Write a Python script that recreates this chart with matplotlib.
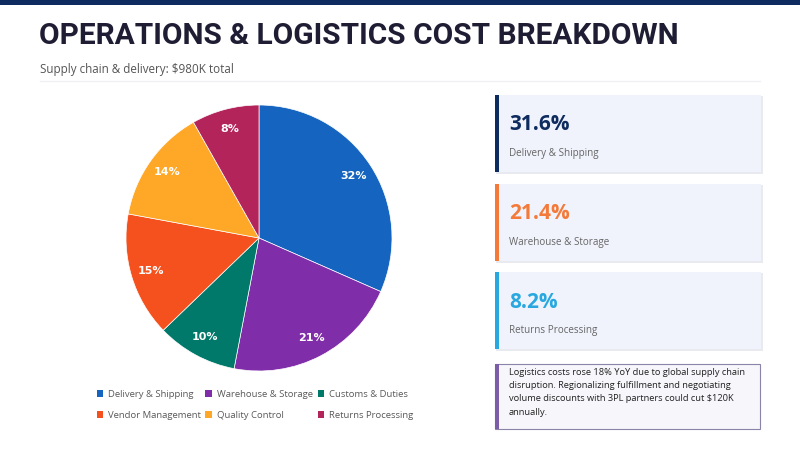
import matplotlib
matplotlib.use('Agg')
import matplotlib.pyplot as plt
from matplotlib.patches import Rectangle, Patch

# data
categories = ['Delivery & Shipping', 'Warehouse & Storage', 'Customs & Duties',
              'Vendor Management', 'Quality Control', 'Returns Processing']
shares = [31.6, 21.4, 9.8, 15.1, 13.9, 8.2]
colors = ['#1565C0', '#7F2DA8', '#00796B', '#F4511E', '#FFA726', '#B3245A']

card_values = [31.6, 21.4, 8.2]
card_labels = ['Delivery & Shipping', 'Warehouse & Storage', 'Returns Processing']
card_colors = ['#0D2B5E', '#F47A3A', '#29A8E0']

title = 'OPERATIONS & LOGISTICS COST BREAKDOWN'
subtitle = 'Supply chain & delivery: $980K total'
note = ('Logistics costs rose 18% YoY due to global supply chain\n'
        'disruption. Regionalizing fulfillment and negotiating\n'
        'volume discounts with 3PL partners could cut $120K\n'
        'annually.')

W, H = 800, 450
fig = plt.figure(figsize=(W / 100, H / 100), dpi=100)
fig.patch.set_facecolor('white')


def fx(px):
    return px / W


def fy(py):
    return 1 - py / H


# top bar
fig.patches.append(Rectangle((0, fy(5)), 1, 5 / H, transform=fig.transFigure,
                             facecolor='#0D2B5E', edgecolor='none'))

fig.text(fx(39), fy(36), title, fontsize=21.5, fontweight='bold', family='Roboto',
         color='#1F1D33', va='center', ha='left')
fig.text(fx(40), fy(70), subtitle, fontsize=8.4, family='Open Sans',
         color='#555555', va='center', ha='left')
fig.add_artist(plt.Line2D([fx(40), fx(760)], [fy(81), fy(81)],
                          transform=fig.transFigure, color='#F0F0F4', lw=1))

# pie
ax = fig.add_axes([fx(126), fy(371), 266 / W, 266 / H])
wedges, texts, autotexts = ax.pie(
    shares, colors=colors, startangle=90, counterclock=False,
    autopct='%1.0f%%', pctdistance=0.85,
    wedgeprops=dict(edgecolor='white', linewidth=0.5),
    textprops=dict(color='white', fontsize=8, fontweight='bold', family='DejaVu Sans'))
ax.set_xlim(-1.0, 1.0)
ax.set_ylim(-1.0, 1.0)
ax.set_aspect('equal')

# legend (row-wise order: reorder for column-wise fill)
order = [0, 3, 1, 4, 2, 5]
handles = [Patch(facecolor=colors[i], edgecolor='none') for i in order]
labels = [categories[i] for i in order]
fig.legend(handles, labels, ncol=3, loc='upper left',
           bbox_to_anchor=(fx(89), fy(382)), frameon=False,
           prop=dict(family='Open Sans', size=6.8), labelcolor='#595959',
           handlelength=0.7, handleheight=0.7, handletextpad=0.55,
           columnspacing=0.45, labelspacing=1.3, borderpad=0.3)

# KPI cards
card_tops = [95, 184, 272]
card_h = 77
for top, val, lab, col in zip(card_tops, card_values, card_labels, card_colors):
    fig.patches.append(Rectangle((fx(496), fy(top + card_h + 2)), 267 / W, (card_h + 1) / H,
                                 transform=fig.transFigure, facecolor='#E8EAF0',
                                 edgecolor='none'))
    fig.patches.append(Rectangle((fx(495), fy(top + card_h)), 266 / W, card_h / H,
                                 transform=fig.transFigure, facecolor='#F0F3FC',
                                 edgecolor='none'))
    fig.patches.append(Rectangle((fx(495), fy(top + card_h)), 4 / W, card_h / H,
                                 transform=fig.transFigure, facecolor=col,
                                 edgecolor='none'))
    fig.text(fx(509), fy(top + 30), f'{val:.1f}%', fontsize=15, fontweight='bold',
             family='Open Sans', color=col, va='center', ha='left')
    fig.text(fx(509), fy(top + 58), lab, fontsize=7.1, family='Open Sans',
             color='#666666', va='center', ha='left')

# note box
fig.patches.append(Rectangle((fx(495), fy(429)), 265 / W, 65 / H,
                             transform=fig.transFigure, facecolor='#F6F6FB',
                             edgecolor='#8A84A8', linewidth=0.8))
fig.patches.append(Rectangle((fx(495), fy(429)), 4 / W, 65 / H,
                             transform=fig.transFigure, facecolor='#7B5EA7',
                             edgecolor='none'))
fig.text(fx(509), fy(368), note, fontsize=6.7, family='Open Sans',
         color='#222222', va='top', ha='left', linespacing=1.6)

fig.savefig('out.png', dpi=100)
